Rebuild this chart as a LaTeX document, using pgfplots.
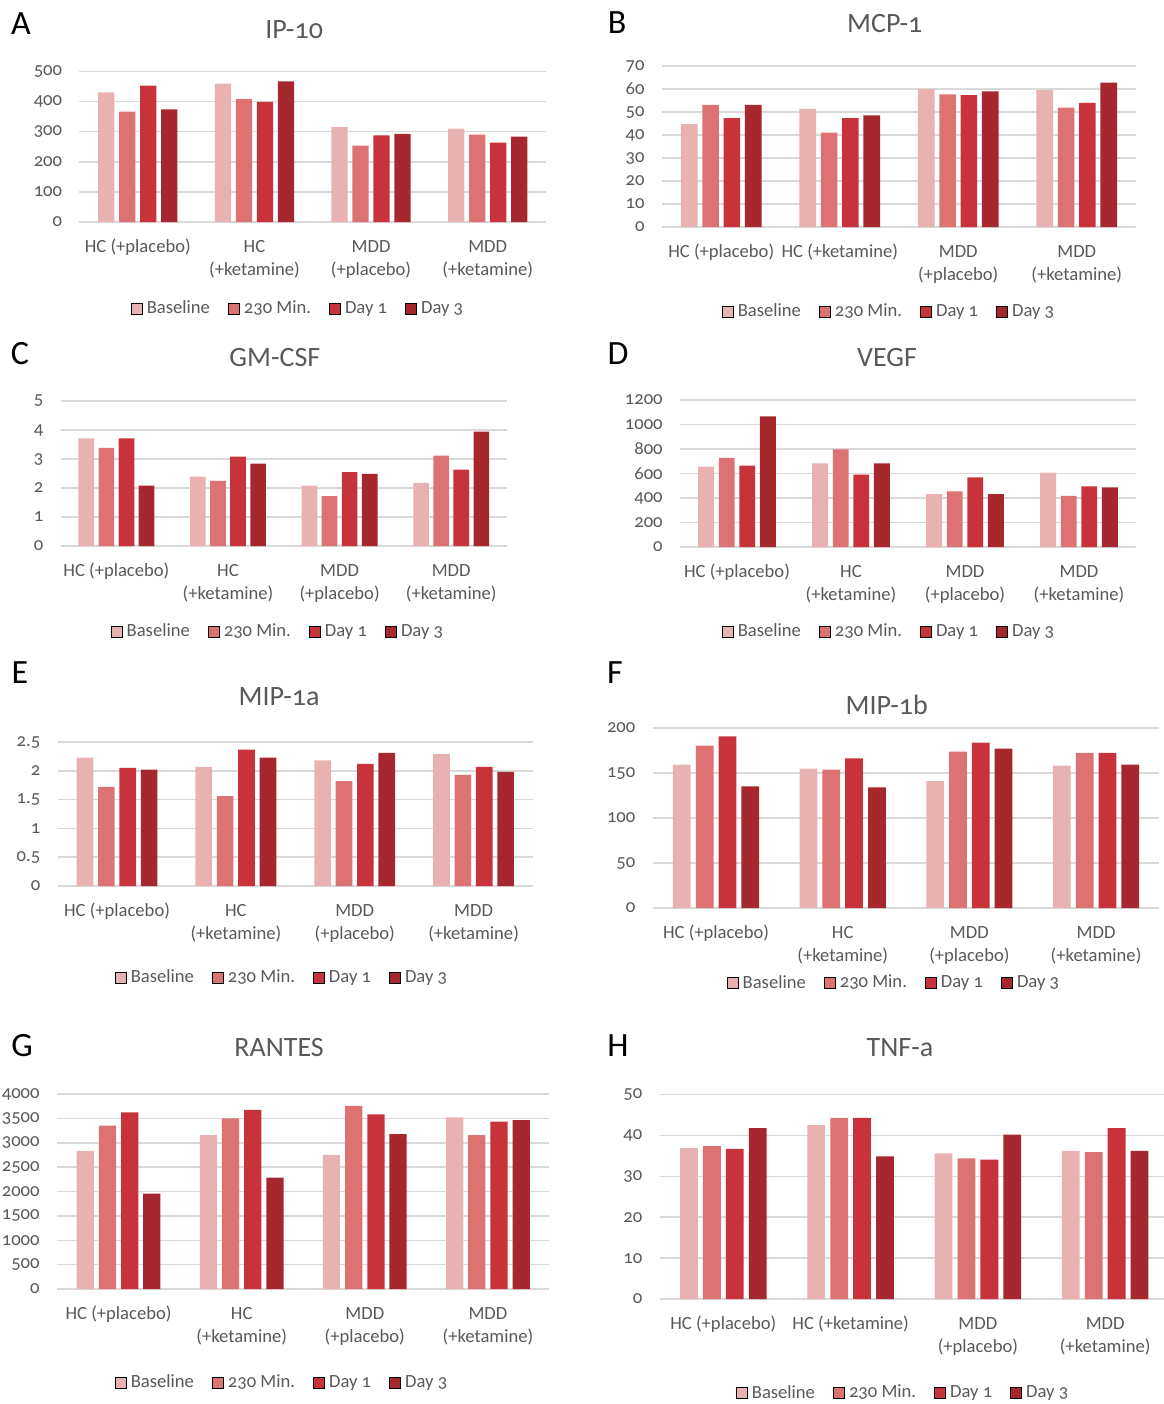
\documentclass[border=0pt]{standalone}
\usepackage{fontspec}
\setmainfont{Carlito}[Numbers=OldStyle]
\usepackage{pgfplots}
\pgfplotsset{compat=1.18}
\usepackage{pgfplotstable}
\definecolor{c1}{RGB}{232,178,178}
\definecolor{c2}{RGB}{220,114,114}
\definecolor{c3}{RGB}{200,50,58}
\definecolor{c4}{RGB}{166,40,46}
\definecolor{gridc}{RGB}{217,217,217}
\definecolor{txt}{RGB}{89,89,89}
\newcommand\tkfont{\fontsize{9.3}{11.6}\selectfont\addfontfeature{Numbers=OldStyle}}
\newcommand\ttfont{\fontsize{14}{16}\selectfont}
\newcommand\ltfont{\fontsize{17}{20}\selectfont}

\pgfplotstableread{
x b m d1 d3
0 431 367 453 374
1 460 408 399 467
2 315 254 288 293
3 310 290 264 284
}\tA
\pgfplotstableread{
x b m d1 d3
0 44.7 53.1 47.3 53.1
1 51.4 41.0 47.3 48.5
2 60.0 57.7 57.3 59.0
3 59.5 51.9 54.0 62.8
}\tB
\pgfplotstableread{
x b m d1 d3
0 3.71 3.38 3.71 2.08
1 2.39 2.25 3.08 2.84
2 2.08 1.72 2.55 2.49
3 2.18 3.12 2.63 3.94
}\tC
\pgfplotstableread{
x b m d1 d3
0 656 727 664 1066
1 683 798 590 683
2 432 454 569 432
3 607 418 495 487
}\tD
\pgfplotstableread{
x b m d1 d3
0 2.23 1.72 2.05 2.02
1 2.07 1.56 2.37 2.23
2 2.18 1.82 2.12 2.31
3 2.29 1.93 2.07 1.98
}\tE
\pgfplotstableread{
x b m d1 d3
0 159.4 180.4 190.8 135.1
1 155.0 153.9 166.4 134.0
2 141.0 173.8 183.8 177.1
3 158.3 172.3 172.3 159.4
}\tF
\pgfplotstableread{
x b m d1 d3
0 2835 3353 3625 1956
1 3155 3503 3673 2283
2 2753 3755 3584 3176
3 3523 3155 3434 3462
}\tG
\pgfplotstableread{
x b m d1 d3
0 36.9 37.4 36.7 41.8
1 42.5 44.3 44.3 34.9
2 35.6 34.4 34.1 40.2
3 36.2 35.9 41.8 36.2
}\tH

\pgfplotsset{
 panel/.style={
  scale only axis, anchor=south west,
  xmin=-0.5, xmax=3.5, ymin=0,
  xtick={0,1,2,3},
  axis line style={draw=none},
  tick style={draw=none},
  major tick length=0pt,
  ymajorgrids,
  major grid style={draw=gridc, line width=0.75pt},
  /pgf/number format/assume math mode=true,
  /pgf/number format/1000 sep={},
  scaled y ticks=false,
  yticklabel={\pgfmathprintnumber{\tick}},
  yticklabel style={font=\tkfont, text=txt, anchor=east, inner sep=0pt, xshift=-8.5pt},
  xticklabel style={font=\tkfont, text=txt, anchor=north, align=center, inner sep=0pt, yshift=-7pt},
  title style={font=\ttfont, text=txt, anchor=center, yshift=-6pt},
  legend columns=4,
  legend style={draw=none, fill=none, font=\tkfont, text=txt, anchor=center,
    /tikz/every even column/.append style={column sep=7pt}},
  legend image code/.code={\fill[##1] (0pt,-2.8pt) rectangle (5.6pt,2.8pt);},
 },
 labsA/.style={xticklabels={{\strut HC (+placebo)},{\strut HC\\(+ketamine)},{\strut MDD\\(+placebo)},{\strut MDD\\(+ketamine)}}},
 labsB/.style={xticklabels={{\strut HC (+placebo)},{\strut HC (+ketamine)},{\strut MDD\\(+placebo)},{\strut MDD\\(+ketamine)}}},
}

\newcommand\fourbars[1]{%
 \addplot[ybar, bar width=0.14, bar shift=-0.27, fill=c1, draw=none, forget plot] table[x=x,y=b]{#1};
 \addplot[ybar, bar width=0.14, bar shift=-0.09, fill=c2, draw=none, forget plot] table[x=x,y=m]{#1};
 \addplot[ybar, bar width=0.14, bar shift=0.09, fill=c3, draw=none, forget plot] table[x=x,y=d1]{#1};
 \addplot[ybar, bar width=0.14, bar shift=0.27, fill=c4, draw=none, forget plot] table[x=x,y=d3]{#1};
 \addlegendimage{fill=c1}\addlegendentry{Baseline}
 \addlegendimage{fill=c2}\addlegendentry{230 Min.}
 \addlegendimage{fill=c3}\addlegendentry{Day 1}
 \addlegendimage{fill=c4}\addlegendentry{Day 3}
}

\begin{document}
\begin{tikzpicture}
\path[use as bounding box] (0,0) rectangle (581.5pt,-702pt);

% A
\begin{axis}[panel, labsA, at={(39.75pt,-111pt)}, width=233.25pt, height=75.25pt,
  ymax=500, ytick={0,100,200,300,400,500},
  title={IP-10}, title style={at={(0.46,1.276)}},
  legend style={at={(0.4705,-0.578)}}]
\fourbars{\tA}
\end{axis}
\node[font=\ltfont] at (10.5pt,-12pt) {A};

% B
\begin{axis}[panel, labsB, at={(331pt,-113.5pt)}, width=237pt, height=80.5pt,
  ymax=70, ytick={0,10,20,30,40,50,60,70},
  title={MCP-1}, title style={at={(0.470,1.261)}},
  legend style={at={(0.481,-0.528)}}]
\fourbars{\tB}
\end{axis}
\node[font=\ltfont] at (308.5pt,-11.5pt) {B};

% C
\begin{axis}[panel, labsA, at={(30.3pt,-273pt)}, width=223.2pt, height=72.5pt,
  ymax=5, ytick={0,1,2,3,4,5},
  title={GM-CSF}, title style={at={(0.480,1.297)}},
  legend style={at={(0.489,-0.593)}}]
\fourbars{\tC}
\end{axis}
\node[font=\ltfont] at (10pt,-177pt) {C};

% D
\begin{axis}[panel, labsA, at={(340pt,-273.5pt)}, width=228pt, height=73.5pt,
  ymax=1200, ytick={0,200,400,600,800,1000,1200},
  title={VEGF}, title style={at={(0.454,1.286)}},
  legend style={at={(0.4605,-0.578)}}]
\fourbars{\tD}
\end{axis}
\node[font=\ltfont] at (309pt,-177pt) {D};

% E
\begin{axis}[panel, labsA, at={(28.8pt,-443pt)}, width=237.7pt, height=72pt,
  ymax=2.5, ytick={0,0.5,1,1.5,2,2.5},
  title={MIP-1a}, title style={at={(0.466,1.3125)}},
  legend style={at={(0.474,-0.639)}}]
\fourbars{\tE}
\end{axis}
\node[font=\ltfont] at (10pt,-336.5pt) {E};

% F
\begin{axis}[panel, labsA, at={(326.35pt,-454pt)}, width=253.35pt, height=90pt,
  ymax=200, ytick={0,50,100,150,200},
  title={MIP-1b}, title style={at={(0.462,1.128)}},
  legend style={at={(0.478,-0.417)}}]
\fourbars{\tF}
\end{axis}
\node[font=\ltfont] at (307.5pt,-336.5pt) {F};

% G
\begin{axis}[panel, labsA, at={(28.5pt,-644.5pt)}, width=246.25pt, height=97.5pt,
  ymax=4000, ytick={0,500,1000,1500,2000,2500,3000,3500,4000},
  title={RANTES}, title style={at={(0.451,1.236)}},
  legend style={at={(0.459,-0.482)}}]
\fourbars{\tG}
\end{axis}
\node[font=\ltfont] at (11pt,-523pt) {G};

% H
\begin{axis}[panel, labsB, at={(329.85pt,-649.5pt)}, width=254.55pt, height=102.25pt,
  ymax=50, ytick={0,10,20,30,40,50},
  title={TNF-a}, title style={at={(0.472,1.227)}},
  legend style={at={(0.480,-0.46)}}]
\fourbars{\tH}
\end{axis}
\node[font=\ltfont] at (309pt,-523pt) {H};

\end{tikzpicture}
\end{document}
